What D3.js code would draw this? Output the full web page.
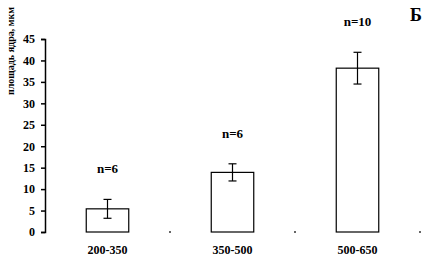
<!DOCTYPE html>
<html>
<head>
<meta charset="utf-8">
<script src="https://cdn.jsdelivr.net/npm/d3@7"></script>
<style>
  body { margin: 0; background: #fff; }
</style>
</head>
<body>
<div id="chart"></div>
<script>
const svgWidth = 427;
const svgHeight = 256;
const serif = "'Liberation Serif', 'Times New Roman', Times, serif";

// data
const categories = ["200-350", "350-500", "500-650"];
const means = [5.4, 13.9, 38.2];
const errors = [2.2, 2.0, 3.7];
const nLabels = ["n=6", "n=6", "n=10"];
const yTicks = [0, 5, 10, 15, 20, 25, 30, 35, 40, 45];

const margin = { top: 39, right: 7, bottom: 24, left: 45 };
const width = svgWidth - margin.left - margin.right;
const height = svgHeight - margin.top - margin.bottom;

const svg = d3.select("#chart")
  .append("svg")
  .attr("width", svgWidth)
  .attr("height", svgHeight)
  .attr("font-family", serif)
  .attr("font-weight", "bold");

const chartGroup = svg.append("g")
  .attr("transform", `translate(${margin.left}, ${margin.top})`);

const x = d3.scaleBand()
  .domain(categories)
  .range([0, 375])
  .paddingInner(0.66)
  .paddingOuter(0.33);

const y = d3.scaleLinear()
  .domain([0, 45])
  .range([height, 0]);

// y axis
const leftAxis = d3.axisLeft(y)
  .tickValues(yTicks)
  .tickSize(4)
  .tickPadding(6);

const yAxis = chartGroup.append("g")
  .call(leftAxis)
  .attr("font-family", serif)
  .attr("font-size", 12);
yAxis.select(".domain").attr("stroke", "#000").attr("stroke-width", 1.5);
yAxis.selectAll(".tick line").attr("stroke", "#000").attr("stroke-width", 1.5);
yAxis.selectAll(".tick text")
  .attr("fill", "#000")
  .attr("font-weight", "bold");

// category boundary ticks (no x axis line in the original)
const step = x.step();
chartGroup.selectAll(".sep")
  .data(categories)
  .enter()
  .append("line")
  .attr("x1", d => x(d) - x.paddingOuter() * step + step)
  .attr("x2", d => x(d) - x.paddingOuter() * step + step)
  .attr("y1", height - 1)
  .attr("y2", height + 1)
  .attr("stroke", "#000")
  .attr("stroke-width", 1.2);

// bars
chartGroup.selectAll(".bar")
  .data(means)
  .enter()
  .append("rect")
  .attr("x", (d, i) => x(categories[i]))
  .attr("y", d => y(d))
  .attr("width", x.bandwidth())
  .attr("height", d => height - y(d))
  .attr("fill", "#fff")
  .attr("stroke", "#000")
  .attr("stroke-width", 1.2);

// error bars
const errGroup = chartGroup.selectAll(".err")
  .data(means)
  .enter()
  .append("g")
  .attr("transform", (d, i) => `translate(${x(categories[i]) + x.bandwidth() / 2}, 0)`);

errGroup.append("line")
  .attr("y1", (d, i) => y(d + errors[i]))
  .attr("y2", (d, i) => y(d - errors[i]))
  .attr("stroke", "#000").attr("stroke-width", 1.2);
errGroup.append("line")
  .attr("x1", -4).attr("x2", 4)
  .attr("y1", (d, i) => y(d + errors[i]))
  .attr("y2", (d, i) => y(d + errors[i]))
  .attr("stroke", "#000").attr("stroke-width", 1.2);
errGroup.append("line")
  .attr("x1", -4).attr("x2", 4)
  .attr("y1", (d, i) => y(d - errors[i]))
  .attr("y2", (d, i) => y(d - errors[i]))
  .attr("stroke", "#000").attr("stroke-width", 1.2);

// n labels above bars
chartGroup.selectAll(".nlab")
  .data(means)
  .enter()
  .append("text")
  .attr("x", (d, i) => x(categories[i]) + x.bandwidth() / 2)
  .attr("y", (d, i) => y(d + errors[i]) - 26)
  .attr("text-anchor", "middle")
  .attr("font-size", 13)
  .text((d, i) => nLabels[i]);

// category labels
chartGroup.selectAll(".cat")
  .data(categories)
  .enter()
  .append("text")
  .attr("x", d => x(d) + x.bandwidth() / 2)
  .attr("y", height + 22)
  .attr("text-anchor", "middle")
  .attr("font-size", 12)
  .text(d => d);

// y label
svg.append("text")
  .attr("transform", "translate(14, 95) rotate(-90)")
  .attr("text-anchor", "start")
  .attr("font-size", 10)
  .text("площадь ядра, мкм");

// panel letter
svg.append("text")
  .attr("x", 410)
  .attr("y", 21)
  .attr("font-size", 18)
  .text("Б");
</script>
</body>
</html>
